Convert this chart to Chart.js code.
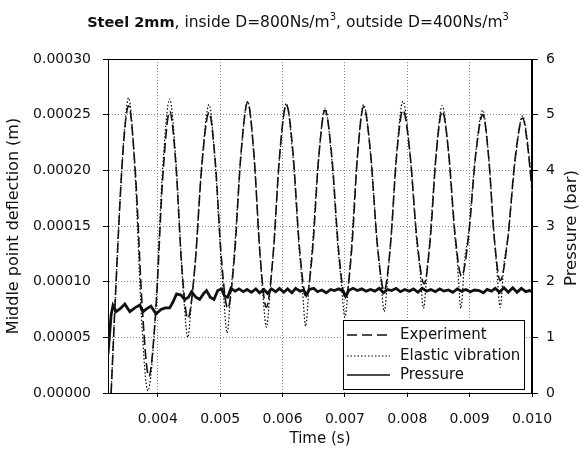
<!DOCTYPE html>
<html>
<head>
<meta charset="utf-8">
<script src="https://cdn.jsdelivr.net/npm/chart.js@4.4.1/dist/chart.umd.min.js"></script>
<style>
  html, body { margin: 0; padding: 0; background: #fff; }
  #c { display: block; }
</style>
</head>
<body>
<canvas id="c" width="580" height="452"></canvas>
<script>
// ── data (time in s) ────────────────────────────────────────
const expT = [0.00325, 0.00333, 0.00341, 0.00347, 0.00353, 0.00364, 0.00375, 0.003855,
  0.003967, 0.004078, 0.00419, 0.004287, 0.004383, 0.00448, 0.004593, 0.004707, 0.00482,
  0.00492, 0.00502, 0.00512, 0.005227, 0.005333, 0.00544, 0.00554, 0.00564, 0.00574,
  0.005847, 0.005953, 0.00606, 0.006167, 0.006273, 0.00638, 0.00648, 0.00658, 0.00668,
  0.00679, 0.0069, 0.00701, 0.007107, 0.007203, 0.0073, 0.00741, 0.00752, 0.00763,
  0.00773, 0.00783, 0.00793, 0.008043, 0.008157, 0.00827, 0.008367, 0.008463, 0.00856,
  0.008663, 0.008767, 0.00887, 0.008983, 0.009097, 0.00921, 0.009303, 0.009397, 0.00949,
  0.00961, 0.00973, 0.00985, 0.00993, 0.0100];
const expV = [0.0, 0.000100, 0.000190, 0.000238, 0.000258, 0.000197, 0.000076, 0.000015,
  0.0000745, 0.0001935, 0.000253, 0.0002065, 0.0001135, 0.000067, 0.000113, 0.000206, 0.000252,
  0.000208, 0.000120, 0.000076, 0.000122, 0.000215, 0.000261, 0.000215, 0.000123, 0.000077,
  0.000123, 0.000214, 0.000259, 0.000216, 0.000129, 0.000086, 0.000128, 0.000212, 0.000254,
  0.000212, 0.000127, 0.000085, 0.000128, 0.000214, 0.000257, 0.000216, 0.000133, 0.000092,
  0.000133, 0.000214, 0.000254, 0.000215, 0.000137, 0.000098, 0.000137, 0.000214, 0.000253,
  0.000216, 0.000142, 0.000105, 0.000141, 0.000214, 0.000250, 0.000213, 0.000138, 0.000101,
  0.000138, 0.000211, 0.000247, 0.000222, 0.000182];

const elaT = [0.00325, 0.00333, 0.00341, 0.00347, 0.00353, 0.003633, 0.003737, 0.00384,
  0.003957, 0.004073, 0.00419, 0.004287, 0.004383, 0.00442, 0.00448, 0.00454, 0.004593, 0.004707, 0.00482,
  0.004917, 0.005013, 0.00505, 0.00511, 0.00517, 0.00522, 0.00533, 0.00544, 0.00554, 0.00564, 0.00568, 0.00574, 0.0058,
  0.005847, 0.005953, 0.00606, 0.006163, 0.006267, 0.00631, 0.00637, 0.00643, 0.006473, 0.006577, 0.00668,
  0.006787, 0.006893, 0.00694, 0.0070, 0.00706, 0.0071, 0.0072, 0.0073, 0.00741, 0.00752, 0.00757, 0.00763, 0.00769,
  0.00773, 0.00783, 0.00793, 0.00804, 0.00815, 0.0082, 0.00826, 0.00832, 0.00836, 0.00846, 0.00856,
  0.00866, 0.00876, 0.0088, 0.00886, 0.00892, 0.008977, 0.009093, 0.00921, 0.009303, 0.009397, 0.00943, 0.00949, 0.00955,
  0.00961, 0.00973, 0.00985, 0.00993, 0.0100];
const elaV = [0.0, 0.000100, 0.000190, 0.000240, 0.000265, 0.000199, 0.000068, 0.000002,
  0.0000675, 0.0001985, 0.000264, 0.0002105, 0.0001135, 0.000082, 0.000050, 0.000082, 0.000113, 0.000207, 0.000259,
  0.000208, 0.000120, 0.000091, 0.000054, 0.000091, 0.000122, 0.000212, 0.000262, 0.000213, 0.000123, 0.000092, 0.000059, 0.000092,
  0.000123, 0.000212, 0.000260, 0.000214, 0.000129, 0.000101, 0.000060, 0.000101, 0.000128, 0.000210, 0.000256,
  0.000211, 0.000127, 0.000100, 0.000068, 0.000100, 0.000128, 0.000213, 0.000259, 0.000215, 0.000133, 0.000107, 0.000073, 0.000107,
  0.000133, 0.000216, 0.000262, 0.000217, 0.000137, 0.000113, 0.000076, 0.000113, 0.000137, 0.000214, 0.000258,
  0.000216, 0.000142, 0.000120, 0.000076, 0.000120, 0.000141, 0.000213, 0.000254, 0.000213, 0.000138, 0.000116, 0.000077, 0.000116,
  0.000138, 0.000208, 0.000249, 0.000225, 0.000185];

const presT = [0.00320, 0.00325, 0.00328, 0.00333, 0.00340, 0.00347, 0.00355, 0.00363,
  0.00371, 0.00376, 0.00383, 0.00389, 0.00397, 0.00405, 0.00412, 0.00419, 0.00424, 0.00430,
  0.00437, 0.00443, 0.00449, 0.00454, 0.00461, 0.00467, 0.00473, 0.00478, 0.00484, 0.00490,
  0.00496, 0.00502, 0.00507, 0.00512, 0.00517, 0.00524, 0.00530, 0.00537, 0.00543, 0.00550,
  0.00557, 0.00563, 0.00570, 0.00576, 0.00582, 0.00589, 0.00595, 0.00602, 0.00608, 0.00615,
  0.00621, 0.00628, 0.00634, 0.00638, 0.00643, 0.00650, 0.00656, 0.00663, 0.00670, 0.00677,
  0.00683, 0.00690, 0.00697, 0.00701, 0.00706, 0.00713, 0.00720, 0.00727, 0.00734, 0.00741,
  0.00748, 0.00755, 0.00762, 0.00768, 0.00775, 0.00782, 0.00789, 0.00796, 0.00803, 0.00810,
  0.00817, 0.00824, 0.00831, 0.00838, 0.00845, 0.00852, 0.00859, 0.00866, 0.00873, 0.00880,
  0.00887, 0.00894, 0.00901, 0.00908, 0.00915, 0.00922, 0.00928, 0.00935, 0.00941, 0.00948,
  0.00955, 0.00962, 0.00969, 0.00976, 0.00983, 0.00990, 0.00996, 0.01000];
const presV = [0.70, 1.40, 1.57, 1.46, 1.52, 1.60, 1.46, 1.53,
  1.58, 1.46, 1.52, 1.56, 1.42, 1.50, 1.53, 1.53, 1.63, 1.78,
  1.76, 1.68, 1.72, 1.82, 1.72, 1.68, 1.78, 1.84, 1.72, 1.68,
  1.84, 1.87, 1.74, 1.72, 1.88, 1.83, 1.87, 1.82, 1.86, 1.81,
  1.87, 1.80, 1.86, 1.79, 1.87, 1.82, 1.88, 1.81, 1.87, 1.80,
  1.88, 1.83, 1.85, 1.76, 1.86, 1.88, 1.82, 1.85, 1.80, 1.86,
  1.84, 1.87, 1.83, 1.74, 1.84, 1.88, 1.84, 1.87, 1.83, 1.86,
  1.83, 1.88, 1.80, 1.86, 1.84, 1.88, 1.82, 1.86, 1.83, 1.87,
  1.81, 1.88, 1.83, 1.86, 1.82, 1.87, 1.83, 1.85, 1.81, 1.87,
  1.83, 1.86, 1.82, 1.85, 1.84, 1.80, 1.86, 1.83, 1.88, 1.81,
  1.89, 1.81, 1.89, 1.81, 1.88, 1.82, 1.84, 1.82];

const xTicks = [0.004, 0.005, 0.006, 0.007, 0.008, 0.009, 0.010];
const yTicks = [0, 0.00005, 0.0001, 0.00015, 0.0002, 0.00025, 0.0003];
const pTicks = [0, 1, 2, 3, 4, 5, 6];

const seriesNames = ['Experiment', 'Elastic vibration', 'Pressure'];

const FONT = "'DejaVu Sans', sans-serif";
const INK = '#111';

const toXY = (ts, vs) => ts.map((t, i) => ({ x: t, y: vs[i] }));

// ── frame, title, right-axis title, legend ──────────────────
const decor = {
  id: 'decor',
  beforeDatasetsDraw(chart) {
    const { ctx, chartArea: a } = chart;
    ctx.save();
    ctx.strokeStyle = '#000';
    ctx.lineWidth = 1;
    ctx.strokeRect(a.left + 0.5, a.top + 0.5, a.right - a.left - 1, a.bottom - a.top);
    ctx.restore();
  },
  afterDraw(chart) {
    const { ctx } = chart;
    ctx.save();
    ctx.fillStyle = INK;

    // title: bold + regular parts, with superscripts
    const parts = [
      { t: 'Steel 2mm', f: `bold 14.5px ${FONT}` },
      { t: ', inside D=800Ns/m', f: `15.5px ${FONT}` },
      { t: '3', f: `10px ${FONT}`, sup: true },
      { t: ', outside D=400Ns/m', f: `15.5px ${FONT}` },
      { t: '3', f: `10px ${FONT}`, sup: true },
    ];
    let total = 0;
    parts.forEach(p => { ctx.font = p.f; p.w = ctx.measureText(p.t).width; total += p.w; });
    let x = 298 - total / 2;
    ctx.textBaseline = 'alphabetic';
    ctx.textAlign = 'left';
    parts.forEach(p => {
      ctx.font = p.f;
      ctx.fillText(p.t, x, p.sup ? 20 : 27);
      x += p.w;
    });

    // right axis title, reads bottom to top
    ctx.font = `16.5px ${FONT}`;
    ctx.textAlign = 'center';
    ctx.textBaseline = 'middle';
    ctx.translate(572, 228);
    ctx.rotate(-Math.PI / 2);
    ctx.fillText('Pressure (bar)', 0, 0);
    ctx.setTransform(1, 0, 0, 1, 0, 0);

    // legend box
    const lx = 343.5, ly = 320.5, lw = 181, lh = 69;
    ctx.fillStyle = '#fff';
    ctx.fillRect(lx, ly, lw, lh);
    ctx.strokeStyle = '#000';
    ctx.lineWidth = 1;
    ctx.strokeRect(lx, ly, lw, lh);
    const rows = [335, 356, 375];
    chart.data.datasets.forEach((ds, i) => {
      ctx.beginPath();
      ctx.setLineDash(ds.legendDash);
      ctx.lineWidth = ds.legendWidth;
      ctx.strokeStyle = ds.borderColor;
      ctx.moveTo(347, rows[i]);
      ctx.lineTo(390, rows[i]);
      ctx.stroke();
      ctx.setLineDash([]);
      ctx.fillStyle = INK;
      ctx.font = `15px ${FONT}`;
      ctx.textAlign = 'left';
      ctx.textBaseline = 'middle';
      ctx.fillText(ds.label, 400, rows[i]);
    });
    ctx.restore();
  }
};

new Chart(document.getElementById('c'), {
  type: 'line',
  data: {
    datasets: [
      {
        label: seriesNames[0],
        data: toXY(expT, expV),
        yAxisID: 'y',
        borderColor: '#111',
        borderWidth: 1.6,
        borderDash: [10, 4],
        legendDash: [10, 5], legendWidth: 1.5,
        cubicInterpolationMode: 'monotone',
        pointRadius: 0,
      },
      {
        label: seriesNames[1],
        data: toXY(elaT, elaV),
        yAxisID: 'y',
        borderColor: '#000',
        borderWidth: 1.2,
        borderDash: [1.5, 2],
        legendDash: [1.5, 2], legendWidth: 1,
        cubicInterpolationMode: 'monotone',
        pointRadius: 0,
      },
      {
        label: seriesNames[2],
        data: toXY(presT, presV),
        yAxisID: 'y1',
        borderColor: '#111',
        borderWidth: 2.8,
        legendDash: [], legendWidth: 1.5,
        tension: 0,
        pointRadius: 0,
      }
    ]
  },
  options: {
    responsive: false,
    animation: false,
    layout: { padding: { top: 59, left: 0, right: 0, bottom: 0 } },
    plugins: {
      legend: { display: false },
      tooltip: { enabled: false }
    },
    scales: {
      x: {
        type: 'linear', min: 0.0032, max: 0.010,
        afterBuildTicks: s => { s.ticks = xTicks.map(v => ({ value: v })); },
        afterFit: s => { s.height = 59; },
        ticks: { callback: v => v.toFixed(3), color: INK, padding: 14, font: { family: FONT, size: 14 } },
        grid: { color: '#888', tickColor: '#000', tickLength: 4, tickBorderDash: [] },
        border: { display: true, color: '#000', width: 1, dash: [1, 2] },
        title: { display: true, text: 'Time (s)', color: INK, padding: { top: 7 }, font: { family: FONT, size: 15 } }
      },
      y: {
        position: 'left', min: 0, max: 0.0003,
        afterBuildTicks: s => { s.ticks = yTicks.map(v => ({ value: v })); },
        afterFit: s => { s.width = 108; },
        ticks: { callback: v => v.toFixed(5), color: INK, padding: 12, font: { family: FONT, size: 14 } },
        grid: { color: '#888', tickColor: '#000', tickLength: 5, tickBorderDash: [] },
        border: { display: true, color: '#000', width: 1, dash: [1, 2] },
        title: { display: true, text: 'Middle point deflection (m)', color: INK, padding: { top: 4 }, font: { family: FONT, size: 16 } }
      },
      y1: {
        position: 'right', min: 0, max: 6,
        afterBuildTicks: s => { s.ticks = pTicks.map(v => ({ value: v })); },
        afterFit: s => { s.width = 48; },
        ticks: { color: INK, padding: 8, font: { family: FONT, size: 14 } },
        grid: { drawOnChartArea: false, tickColor: '#000', tickLength: 6 },
        border: { display: true, color: '#000', width: 1 }
      }
    }
  },
  plugins: [decor]
});
</script>
</body>
</html>
